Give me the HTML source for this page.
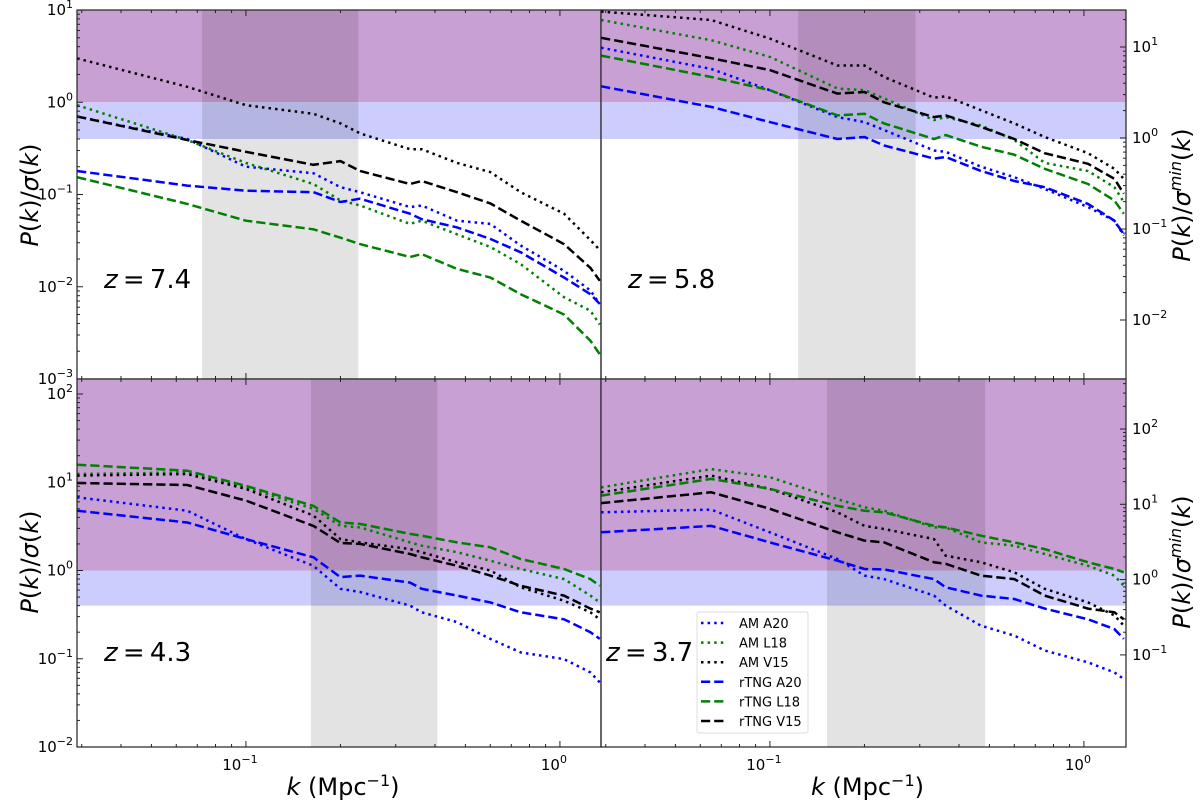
<!DOCTYPE html>
<html><head><meta charset="utf-8">
<style>
html,body{margin:0;padding:0;background:#fff;}
svg{display:block;font-family:"DejaVu Sans","Liberation Sans",sans-serif;}
</style></head>
<body>
<svg id="chart" width="1200" height="802" viewBox="0 0 1200 802" xmlns="http://www.w3.org/2000/svg">
<defs>
<clipPath id="c0"><rect x="77" y="10" width="524" height="369"/></clipPath>
<clipPath id="c1"><rect x="601" y="10" width="525" height="369"/></clipPath>
<clipPath id="c2"><rect x="77" y="379" width="524" height="368"/></clipPath>
<clipPath id="c3"><rect x="601" y="379" width="525" height="368"/></clipPath>
</defs>
<g id="layer"></g>
</svg>
<script>
// shared k grid (Mpc^-1)
const kGrid = [0.029,0.065,0.10,0.164,0.20,0.231,0.333,0.363,0.47,0.60,0.75,1.03,1.25,1.34];
const seriesNames = ["AM A20","AM L18","AM V15","rTNG A20","rTNG L18","rTNG V15"];
const redshiftLabels = ["7.4","5.8","4.3","3.7"];
const grayBandK = [[0.0725,0.228],[0.123,0.291],[0.161,0.407],[0.152,0.485]];

// z = 7.4
const p0_amA20  = [0.70,0.40,0.20,0.17,0.12,0.106,0.073,0.076,0.052,0.048,0.028,0.0149,0.0091,0.0065];
const p0_amL18  = [0.93,0.39,0.22,0.13,0.086,0.076,0.048,0.052,0.037,0.027,0.0176,0.0077,0.0055,0.0039];
const p0_amV15  = [2.99,1.47,0.93,0.75,0.59,0.46,0.31,0.31,0.22,0.175,0.106,0.062,0.032,0.025];
const p0_tnA20  = [0.18,0.125,0.11,0.106,0.083,0.090,0.062,0.054,0.044,0.033,0.0236,0.0126,0.0083,0.0065];
const p0_tnL18  = [0.154,0.079,0.052,0.042,0.034,0.029,0.021,0.0226,0.0156,0.0126,0.0083,0.0050,0.0026,0.00185];
const p0_tnV15  = [0.70,0.39,0.29,0.21,0.23,0.18,0.13,0.14,0.106,0.080,0.052,0.029,0.016,0.0116];
// z = 5.8
const p1_amA20  = [3.9,2.3,1.35,0.69,0.61,0.50,0.30,0.29,0.20,0.154,0.115,0.073,0.052,0.036];
const p1_amL18  = [7.8,4.7,3.1,1.41,1.35,1.1,0.64,0.69,0.56,0.39,0.22,0.18,0.12,0.083];
const p1_amV15  = [9.6,7.8,4.9,2.5,2.5,1.88,1.12,1.16,0.82,0.59,0.42,0.28,0.19,0.148];
const p1_tnA20  = [1.49,0.89,0.61,0.40,0.42,0.34,0.245,0.255,0.18,0.14,0.12,0.079,0.052,0.037];
const p1_tnL18  = [3.2,1.88,1.35,0.72,0.75,0.59,0.40,0.44,0.33,0.27,0.19,0.13,0.086,0.062];
const p1_tnV15  = [5.0,3.0,2.23,1.24,1.29,1.0,0.69,0.72,0.54,0.40,0.28,0.215,0.148,0.102];
// z = 4.3
const p2_amA20  = [6.75,4.76,2.27,1.13,0.62,0.57,0.40,0.336,0.26,0.168,0.118,0.099,0.070,0.054];
const p2_amL18  = [12.4,12.9,8.75,5.0,3.2,3.08,2.08,1.91,1.61,1.29,1.04,0.80,0.52,0.435];
const p2_amV15  = [11.9,12.4,8.4,4.2,2.27,2.08,1.75,1.61,1.24,1.0,0.645,0.455,0.336,0.28];
const p2_tnA20  = [4.76,3.5,2.27,1.41,0.84,0.875,0.73,0.62,0.52,0.435,0.336,0.28,0.20,0.168];
const p2_tnL18  = [15.8,13.5,9.1,5.4,3.5,3.37,2.6,2.48,2.08,1.83,1.35,1.04,0.80,0.67];
const p2_tnV15  = [9.8,9.3,6.2,3.2,2.05,2.0,1.54,1.41,1.13,0.875,0.67,0.52,0.37,0.336];
// z = 3.7
const p3_amA20  = [4.57,4.9,2.71,1.35,0.875,0.80,0.52,0.40,0.237,0.183,0.124,0.091,0.070,0.059];
const p3_amL18  = [8.75,14.1,11.4,6.45,5.2,4.76,3.08,3.08,2.08,1.91,1.54,1.13,0.875,0.67];
const p3_amV15  = [7.7,11.9,8.4,4.57,3.2,2.95,2.27,1.47,1.24,0.955,0.62,0.435,0.31,0.237];
const p3_tnA20  = [2.71,3.2,2.08,1.29,1.04,1.03,0.80,0.645,0.52,0.475,0.37,0.28,0.217,0.168];
const p3_tnL18  = [7.05,10.9,8.4,5.4,4.76,4.57,3.2,3.08,2.48,2.08,1.75,1.24,1.04,0.955];
const p3_tnV15  = [5.8,7.7,5.0,2.71,2.18,2.08,1.24,1.19,0.875,0.80,0.52,0.37,0.336,0.28];

const leftTicksTop = [1,0,-1,-2,-3];
const leftTicksBot = [2,1,0,-1,-2];
const rightTicksTop = [1,0,-1,-2];
const rightTicksBot = [2,1,0,-1];
const xTickExps = [-1,0];

const NS="http://www.w3.org/2000/svg";
const layer=document.getElementById('layer');
function mk(tag,attrs,parent){const e=document.createElementNS(NS,tag);for(const a in attrs)e.setAttribute(a,attrs[a]);(parent||layer).appendChild(e);return e;}

const panels=[
 {x0:77,x1:601,y0:10,y1:379,yTop:10,dec:92.25,topExp:1,clip:'c0',data:[p0_amA20,p0_amL18,p0_amV15,p0_tnA20,p0_tnL18,p0_tnV15]},
 {x0:601,x1:1126,y0:10,y1:379,yTop:10,dec:92.25,topExp:1,clip:'c1',data:[p1_amA20,p1_amL18,p1_amV15,p1_tnA20,p1_tnL18,p1_tnV15]},
 {x0:77,x1:601,y0:379,y1:747,yTop:394,dec:88.25,topExp:2,clip:'c2',data:[p2_amA20,p2_amL18,p2_amV15,p2_tnA20,p2_tnL18,p2_tnV15]},
 {x0:601,x1:1126,y0:379,y1:747,yTop:394,dec:88.25,topExp:2,clip:'c3',data:[p3_amA20,p3_amL18,p3_amV15,p3_tnA20,p3_tnL18,p3_tnV15]}
];
const styles=[
 {c:'#0000ff',d:'2.5,4.1'},{c:'#008000',d:'2.5,4.1'},{c:'#000000',d:'2.5,4.1'},
 {c:'#0000ff',d:'9.2,4'},{c:'#008000',d:'9.2,4'},{c:'#000000',d:'9.2,4'}
];
function xs(p,k){return p.x0+(Math.log10(k)+1.538)*314;}
function ys(p,v){return p.yTop+(p.topExp-Math.log10(v))*p.dec;}

panels.forEach((p,i)=>{
  const g=mk('g',{'clip-path':`url(#${p.clip})`});
  
  
  const y1=ys(p,1), y04=ys(p,0.4);
  const pr=mk('rect',{x:p.x0,y:p.y0,width:p.x1-p.x0,height:y1-p.y0,fill:'#c9a0d4'},g);
  
  
  const br=mk('rect',{x:p.x0,y:y1,width:p.x1-p.x0,height:y04-y1,fill:'#ccccfd'},g);
  
  
  const gx0=xs(p,grayBandK[i][0]), gx1=xs(p,grayBandK[i][1]);
  const gr=mk('rect',{x:gx0,y:p.y0,width:gx1-gx0,height:p.y1-p.y0,fill:'#000',opacity:'0.108'},g);
  
  
  p.data.forEach((arr,si)=>{
    const pts=arr.map((v,j)=>xs(p,kGrid[j]).toFixed(1)+','+ys(p,v).toFixed(1)).join(' ');
    const pl=mk('polyline',{points:pts,fill:'none',stroke:styles[si].c,'stroke-width':2.5,'stroke-dasharray':styles[si].d},g);
    
    
  });
  const fr=mk('rect',{x:p.x0,y:p.y0,width:p.x1-p.x0,height:p.y1-p.y0,fill:'none',stroke:'#222','stroke-width':1.2});
  
  
  for(let e=-2;e<=0;e++){for(let m=1;m<=9;m++){const k=m*Math.pow(10,e);const x=xs(p,k);if(x<p.x0+0.5||x>p.x1-0.5)continue;const L=m===1?6:3;
    mk('line',{x1:x,x2:x,y1:p.y1,y2:p.y1-L,stroke:'#222','stroke-width':1});
    mk('line',{x1:x,x2:x,y1:p.y0,y2:p.y0+L,stroke:'#222','stroke-width':1});}}
  const zt=mk('text',{x:(i===3?p.x0+5:p.x0+27),y:(i<2?288:661),'font-size':26,fill:'#000'});
  
  
  zt.innerHTML='<tspan font-style="italic">z</tspan>\u2009=\u2009'+redshiftLabels[i];
});

function yTicks(p,exps,xAxis,dir,labelSide,topExp,dec,yTop){
  exps.forEach(e=>{
    const y=yTop+(topExp-e)*dec;
    if(y>=p.y0-0.5&&y<=p.y1+0.5)mk('line',{x1:xAxis,x2:xAxis+dir*6,y1:y,y2:y,stroke:'#222','stroke-width':1});
    for(let m=2;m<=9;m++){const yy=yTop+(topExp-e-Math.log10(m))*dec;if(yy>p.y0&&yy<p.y1)mk('line',{x1:xAxis,x2:xAxis+dir*3,y1:yy,y2:yy,stroke:'#222','stroke-width':1});}
    const t=mk('text',{x:labelSide<0?xAxis-4:xAxis+6,y:y+5,'font-size':15,'text-anchor':labelSide<0?'end':'start',fill:'#000'});
    
    
    t.innerHTML='10<tspan dy="-7" font-size="11">'+(e<0?'\u2212'+(-e):e)+'</tspan>';
  });
}
yTicks(panels[0],leftTicksTop,77,1,-1,1,92.25,10);
yTicks(panels[2],leftTicksBot,77,1,-1,2,88.25,394);
yTicks(panels[1],rightTicksTop,1126,-1,1,1,91,47);
yTicks(panels[3],rightTicksBot,1126,-1,1,2,75.3,429);

[panels[2],panels[3]].forEach(p=>{
  xTickExps.forEach(e=>{
    const x=xs(p,Math.pow(10,e));
    const t=mk('text',{x:x-6,y:770,'font-size':15,'text-anchor':'middle',fill:'#000'});
    
    
    t.innerHTML='10<tspan dy="-7" font-size="11">'+(e<0?'\u2212'+(-e):e)+'</tspan>';
  });
  const xt=mk('text',{x:(p.x0+p.x1)/2+4,y:795,'font-size':24,'text-anchor':'middle',fill:'#000'});
  
  
  xt.innerHTML='<tspan font-style="italic">k</tspan> (Mpc<tspan dy="-9" font-size="16">\u22121</tspan><tspan dy="9">)</tspan>';
});

[[195],[562]].forEach(([cy])=>{
  const t=mk('text',{x:0,y:0,'font-size':24,'text-anchor':'middle',fill:'#000',transform:`translate(38,${cy}) rotate(-90)`});
  
  
  t.innerHTML='<tspan font-style="italic">P</tspan>(<tspan font-style="italic">k</tspan>)/<tspan font-style="italic">σ</tspan>(<tspan font-style="italic">k</tspan>)';
});
[[195],[562]].forEach(([cy])=>{
  const t=mk('text',{x:0,y:0,'font-size':24,'text-anchor':'middle',fill:'#000',transform:`translate(1190,${cy}) rotate(-90)`});
  
  
  t.innerHTML='<tspan font-style="italic">P</tspan>(<tspan font-style="italic">k</tspan>)/<tspan font-style="italic">σ</tspan><tspan dy="-9" font-size="16" font-style="italic">min</tspan><tspan dy="9">(</tspan><tspan font-style="italic">k</tspan>)';
});

const lg=mk('g',{});


mk('rect',{x:697,y:612,width:111,height:121,fill:'#fff',stroke:'#ddd','stroke-width':1,rx:2},lg);
seriesNames.forEach((n,i)=>{
  const y=623+i*19.6;
  const e=mk('g',{},lg);
  
  
  mk('line',{x1:701,x2:726,y1:y,y2:y,stroke:styles[i].c,'stroke-width':2.5,'stroke-dasharray':styles[i].d},e);
  const t=mk('text',{x:739,y:y+5,'font-size':13,fill:'#000'},e);
  t.textContent=n;
});
</script>
</body></html>
